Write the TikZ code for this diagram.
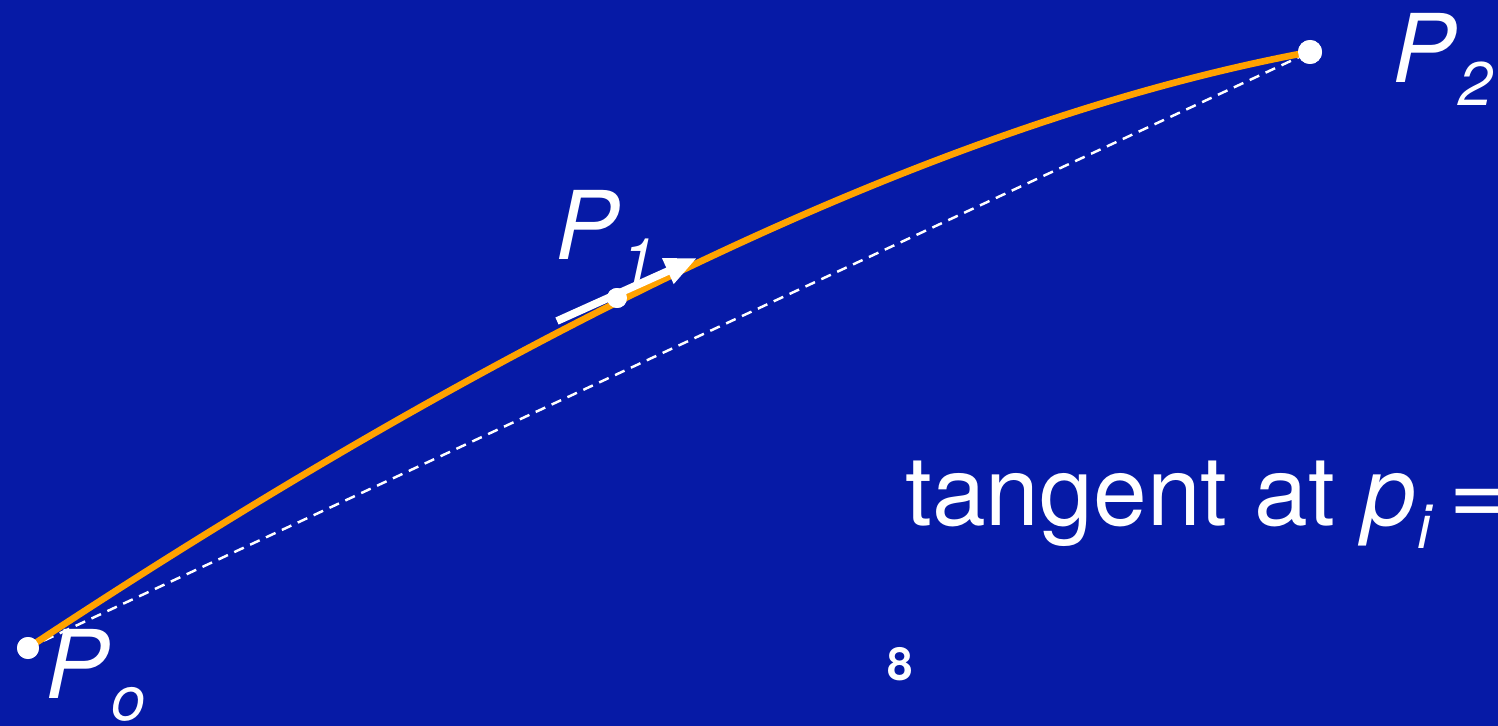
\documentclass[tikz,border=0pt]{standalone}
\usepackage{fontspec}
\setmainfont{TeX Gyre Heros}
\usetikzlibrary{arrows.meta,calc}
\definecolor{slideblue}{HTML}{061AA6}
\definecolor{curveorange}{HTML}{FFA200}
\newcommand\ptlabel[2]{\textit{#1}\kern1pt\raisebox{-0.24em}{\fontsize{35}{35}\selectfont\textit{#2}}}

\begin{document}
\begin{tikzpicture}[x=0.02cm,y=-0.02cm,
      dot/.style={circle,fill=white,inner sep=0pt},
      lbl/.style={anchor=base west,inner sep=0pt,text=white,font=\fontsize{54}{60}\selectfont},
      chord/.style={draw=white,line width=1.4pt,dash pattern=on 0.21cm off 0.14cm},
      curve/.style={draw=curveorange,line width=3.8pt},
      tanarr/.style={-{Triangle[length=0.64cm,width=0.52cm]},draw=white,fill=white,line width=4.4pt}]
    \fill[slideblue] (0,0) rectangle (1498,726);
    \clip (0,0) rectangle (1498,726);
    \coordinate (ctrl) at (781,150);
    \coordinate (tanfrom) at (557,321);
    \coordinate (tanto) at (697,258);
    \node[dot,minimum size=0.44cm] (p0) at (28,648) {};
    \node[dot,minimum size=0.4cm] (p1) at (617,298) {};
    \node[dot,minimum size=0.48cm] (p2) at (1310,52) {};
    \draw[chord] (p0.center) -- (p2.center);
    \draw[curve] (p0.center) .. controls ($(p0.center)!2/3!(ctrl)$) and ($(p2.center)!2/3!(ctrl)$) .. (p2.center);
    \draw[tanarr] (tanfrom) -- (tanto);
    \node[dot,minimum size=0.44cm] at (p0) {};
    \node[dot,minimum size=0.4cm] at (p1) {};
    \node[dot,minimum size=0.48cm] at (p2) {};
    \node[lbl] (lp0) at (45,698) {\ptlabel{P}{o}};
    \node[lbl] (lp1) at (555,260) {\ptlabel{P}{1}};
    \node[lbl] (lp2) at (1392,83) {\ptlabel{P}{2}};
    \node[lbl,font=\fontsize{55}{60}\selectfont] (tangent) at (905,525) {tangent at \ptlabel{p}{i}\,=};
    \node[text=white,inner sep=0pt,font=\bfseries\fontsize{26}{28}\selectfont] (pagenum) at (900,664) {8};
  \end{tikzpicture}
\end{document}
